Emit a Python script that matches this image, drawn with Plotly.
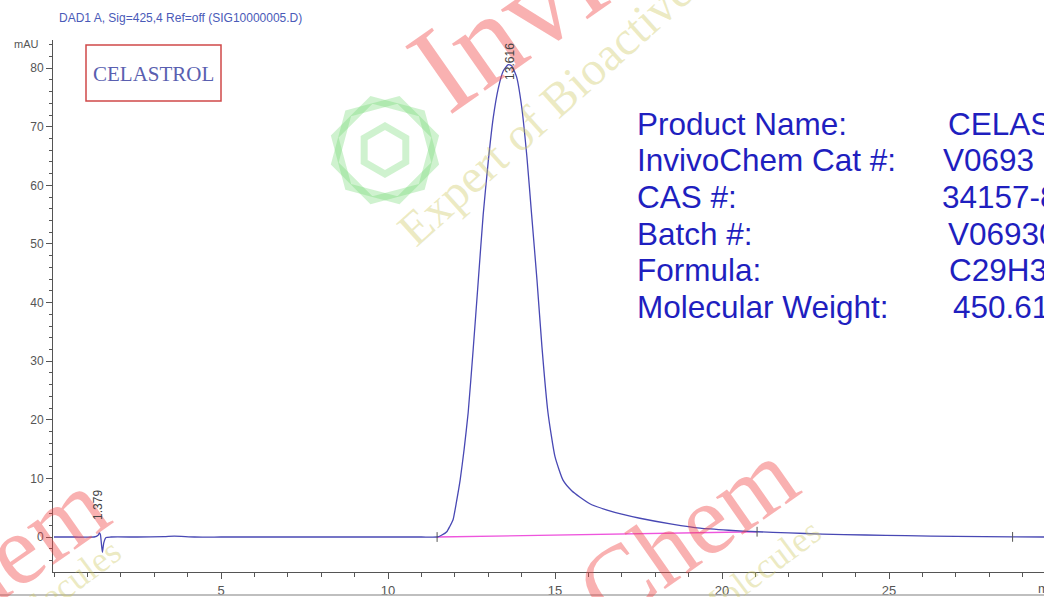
import math
import plotly.graph_objects as go

# ---------------- data ----------------
time_min = [0.0, 0.6, 1.2, 1.32, 1.36, 1.39, 1.42, 1.45, 1.49, 1.56, 1.7, 2.5, 3.3, 3.6, 4.2, 5.0, 7.0, 9.0, 11.0, 11.47,
            11.6, 11.76, 11.85, 11.95, 12.05, 12.16, 12.28, 12.4, 12.55, 12.7, 12.85, 13.0, 13.15, 13.3, 13.45,
            13.6, 13.7, 13.85, 14.0, 14.16, 14.3, 14.46, 14.61, 14.79, 15.0, 15.24, 15.5, 15.75, 16.1, 16.56,
            17.0, 17.54, 18.5, 19.34, 20.2, 21.05, 22.0, 23.0, 24.3, 25.5, 27.0, 28.7, 29.7]
signal_mau = [0.0, 0.0, 0.0, 0.3, 0.7, 0.4, -1.2, -2.6, -1.0, -0.1, 0.0, 0.0, 0.05, 0.15, 0.0, 0.0, 0.0, 0.0, 0.0, 0.0,
              0.3, 0.9, 1.8, 3.0, 6.0, 9.7, 15.0, 21.2, 32.0, 43.5, 55.0, 64.0, 71.5, 76.5, 79.5,
              80.6, 80.4, 78.5, 73.5, 64.8, 55.0, 43.9, 32.4, 21.2, 13.7, 9.7, 7.9, 6.8, 5.5, 4.6,
              3.9, 3.2, 2.2, 1.5, 1.15, 0.9, 0.7, 0.5, 0.34, 0.22, 0.12, 0.02, 0.0]

baseline_time = [11.47, 21.05]
baseline_mau = [0.0, 0.9]

marker_time = [11.47, 21.05, 28.7]
marker_mau = [0.0, 0.9, 0.02]

peak_times = [1.379, 13.616]
peak_heights = [0.7, 80.6]
peak_labels = ["1.379", "13.616"]

info_labels = ["Product Name:", "InvivoChem Cat #:", "CAS #:", "Batch #:", "Formula:", "Molecular Weight:"]
info_values = ["CELASTROL", "V0693", "34157-83-0", "V06930", "C29H38O4", "450.61"]

header_text = "DAD1 A, Sig=425,4 Ref=off (SIG10000005.D)"
compound_name = "CELASTROL"

# ---------------- layout helpers ----------------
W, H = 1044, 597
L, R, T, B = 53, 0, 40, 25
PW, PH = W - L - R, H - T - B


def px(x):
    return (x - L) / PW


def py(y):
    return (H - B - y) / PH


fig = go.Figure()

fig.add_trace(go.Scatter(x=baseline_time, y=baseline_mau, mode="lines",
                         line=dict(color="#ee55dd", width=1.3), hoverinfo="skip", showlegend=False))
fig.add_trace(go.Scatter(x=time_min, y=signal_mau, mode="lines",
                         line=dict(color="#4848b4", width=1.3, shape="spline", smoothing=0.5),
                         showlegend=False))
fig.add_trace(go.Scatter(x=marker_time, y=marker_mau, mode="markers",
                         marker=dict(symbol="line-ns-open", size=7, color="#555555", line=dict(width=1, color="#555555")),
                         hoverinfo="skip", showlegend=False))

annotations = []

# watermarks
wm_red = "rgba(240,70,70,0.42)"
wm_yel = "rgba(205,200,95,0.38)"
for cx, cy, fs in [(680, -97, 125), (580, 607, 100), (-109, 637, 100)]:
    annotations.append(dict(xref="paper", yref="paper", x=px(cx), y=py(cy), text="InvivoChem",
                            showarrow=False, textangle=-35, xanchor="center", yanchor="middle",
                            font=dict(family="Liberation Serif", size=fs, color=wm_red)))
for cx, cy, t in [(623, 39, "Expert of Bioactive Molecules"), (640, 660, "Expert of Bioactive Molecules"),
                  (-60, 680, "Expert of Bioactive Molecules")]:
    annotations.append(dict(xref="paper", yref="paper", x=px(cx), y=py(cy), text=t,
                            showarrow=False, textangle=-42 if cy < 100 else -37, xanchor="center", yanchor="middle",
                            font=dict(family="Liberation Serif", size=48 if cy < 100 else 36, color=wm_yel)))

# header and unit
annotations.append(dict(xref="paper", yref="paper", x=px(57), y=py(18), text=header_text, showarrow=False,
                        xanchor="left", yanchor="middle",
                        font=dict(family="Liberation Sans", size=12, color="#4a5ab8")))
annotations.append(dict(xref="paper", yref="paper", x=px(41), y=py(44), text="mAU", showarrow=False,
                        xanchor="right", yanchor="middle",
                        font=dict(family="Liberation Sans", size=11, color="#555555")))
annotations.append(dict(xref="paper", yref="paper", x=px(1036), y=py(588), text="min", showarrow=False,
                        xanchor="left", yanchor="middle",
                        font=dict(family="Liberation Sans", size=13, color="#555555")))

# compound box text
annotations.append(dict(xref="paper", yref="paper", x=px(153.5), y=py(74), text=compound_name, showarrow=False,
                        xanchor="center", yanchor="middle",
                        font=dict(family="Liberation Serif", size=21, color="#5a5fb0")))

# peak labels
for t, h, lab in zip(peak_times, peak_heights, peak_labels):
    shift = 11 if h < 5 else -17
    annotations.append(dict(x=t, y=h, text=lab, showarrow=False, textangle=-90,
                            xanchor="center", yanchor="bottom", yshift=shift, xshift=-2 if h < 5 else 1,
                            font=dict(family="Liberation Sans", size=12, color="#444444")))

# info block
ys = [124, 160, 197, 234, 270, 307]
vx = [946, 941, 940, 946, 947, 951]
for lab, val, yy, xx in zip(info_labels, info_values, ys, vx):
    annotations.append(dict(xref="paper", yref="paper", x=px(635), y=py(yy), text=lab, showarrow=False,
                            xanchor="left", yanchor="middle",
                            font=dict(family="Liberation Sans", size=31.5, color="#1f1fbf")))
    annotations.append(dict(xref="paper", yref="paper", x=px(xx), y=py(yy), text=val, showarrow=False,
                            xanchor="left", yanchor="middle",
                            font=dict(family="Liberation Sans", size=31.5, color="#1f1fbf")))

shapes = [
    dict(type="rect", xref="paper", yref="paper", x0=px(86), x1=px(221), y0=py(101), y1=py(45),
         line=dict(color="#d04848", width=1.5)),
    dict(type="line", xref="paper", yref="paper", x0=0 - L / PW, x1=1, y0=py(595), y1=py(595),
         line=dict(color="#aaaaaa", width=1.5)),
]


# green hexagon logo (watermark)
def hexpath(cx, cy, r, rot):
    pts = []
    for k in range(6):
        a = math.radians(60 * k + rot)
        pts.append((px(cx + r * math.cos(a)), py(cy + r * math.sin(a))))
    return "M " + " L ".join(f"{a:.4f},{b:.4f}" for a, b in pts) + " Z"


for cx, cy, r, rot in [(385, 150, 52, 15), (385, 150, 52, 45), (385, 150, 24, 30)]:
    shapes.append(dict(type="path", xref="paper", yref="paper", path=hexpath(cx, cy, r, rot),
                       line=dict(color="rgba(110,215,110,0.33)", width=7)))

fig.update_layout(
    width=W, height=H,
    margin=dict(l=L, r=R, t=T, b=B),
    paper_bgcolor="white", plot_bgcolor="white",
    annotations=annotations, shapes=shapes,
    font=dict(family="Liberation Sans", color="#555555"),
    xaxis=dict(range=[(L - 54) / 33.4, (W - 54) / 33.4], tickmode="array",
               tickvals=[5, 10, 15, 20, 25], ticks="outside", ticklen=6, tickcolor="#555555",
               showline=True, linecolor="#555555", linewidth=1, showgrid=False, zeroline=False,
               tickfont=dict(size=13, color="#555555"),
               minor=dict(dtick=1, tick0=0, ticks="outside", ticklen=4, tickcolor="#555555", showgrid=False)),
    yaxis=dict(range=[-5.97, 84.8], tickvals=[0, 10, 20, 30, 40, 50, 60, 70, 80], ticks="outside", ticklen=6,
               tickcolor="#555555", showline=True, linecolor="#555555", linewidth=1, showgrid=False,
               zeroline=False, tickfont=dict(size=12, color="#555555"),
               minor=dict(dtick=2, tick0=0, ticks="outside", ticklen=3, tickcolor="#555555", showgrid=False)),
)

fig.write_html("out.html", config={"displayModeBar": False},
               post_script="document.body.style.margin='0px';")
